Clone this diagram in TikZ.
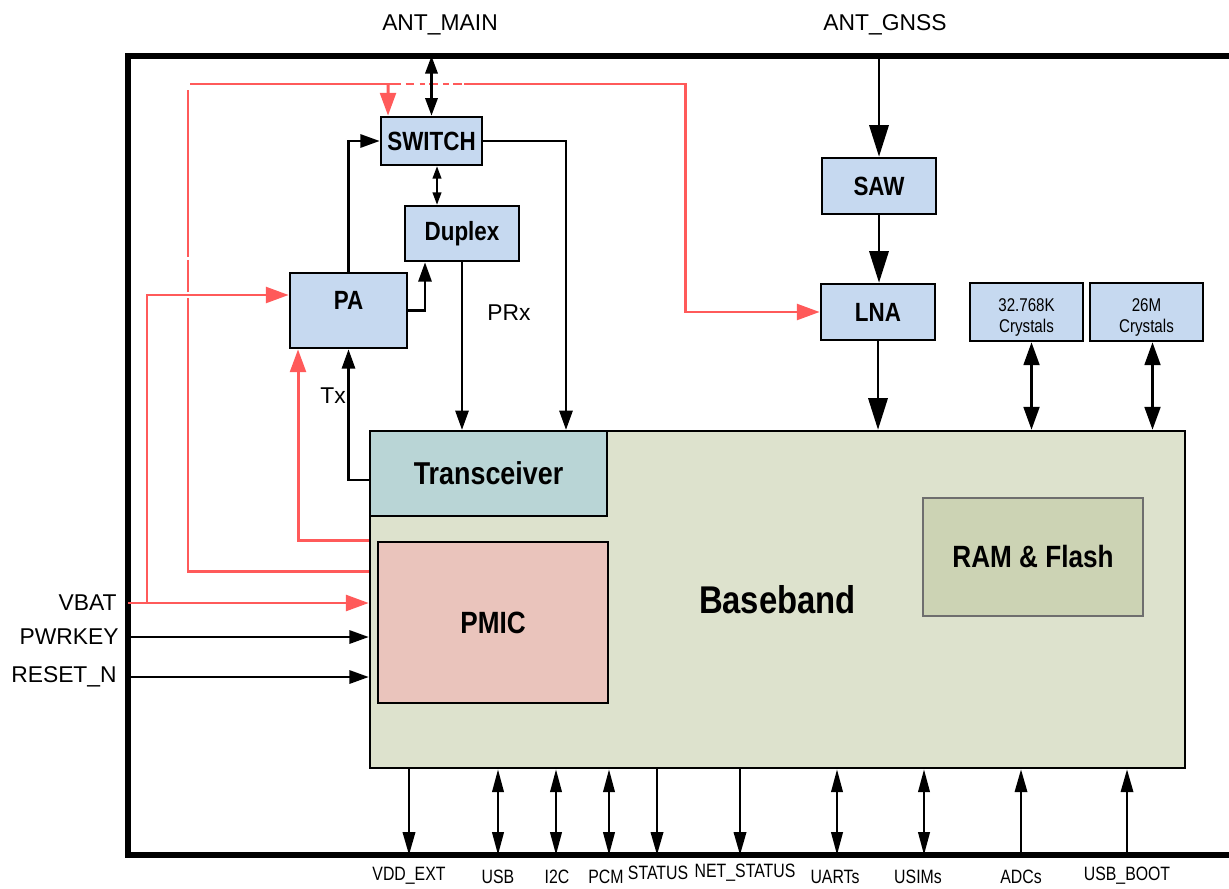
\documentclass[tikz,border=0pt]{standalone}
\usepackage{fontspec}
\setmainfont{Liberation Sans}
\newfontfamily\narrowfont[FakeStretch=0.85]{Liberation Sans}
\newfontfamily\narrowerfont[FakeStretch=0.82]{Liberation Sans}
\usepackage{tikz}
\usetikzlibrary{calc}
\usetikzlibrary{arrows.meta}
\definecolor{boxblue}{HTML}{C6D9F0}
\definecolor{trxfill}{HTML}{B9D5D6}
\definecolor{bbfill}{HTML}{DDE2CD}
\definecolor{pmicfill}{HTML}{EAC4BC}
\definecolor{ramfill}{HTML}{CCD3B4}
\definecolor{ramline}{HTML}{6E6E6E}
\definecolor{linered}{HTML}{FF5A5A}
\tikzstyle{frame}=[line width=3pt]
\tikzstyle{blkfont}=[font=\narrowfont\bfseries\fontsize{15}{17}\selectfont]
\tikzstyle{blk}=[draw,line width=1.5pt,fill=boxblue,inner sep=0pt,blkfont]
\tikzstyle{xtal}=[draw,line width=1.5pt,fill=boxblue,inner sep=0pt,align=center,
  minimum width=2.26cm,minimum height=1.16cm,font=\narrowerfont\fontsize{10.5}{12}\selectfont]
\tikzstyle{lbl}=[inner sep=0pt,font=\fontsize{13}{15}\selectfont]
\tikzstyle{sig}=[inner sep=0pt,font=\narrowerfont\fontsize{11}{13}\selectfont]
\tikzstyle{conn}=[line width=1.4pt]
\tikzstyle{arr}=[conn,-{Triangle[length=11pt,width=7.5pt]}]
\tikzstyle{dbl}=[conn,{Triangle[length=10pt,width=7pt]}-{Triangle[length=10pt,width=7pt]}]
\tikzstyle{smalldbl}=[line width=0.9pt,{Triangle[length=7pt,width=5pt]}-{Triangle[length=7pt,width=5pt]}]
\tikzstyle{bigarr}=[conn,-{Triangle[length=18pt,width=11pt]}]
\tikzstyle{xdbl}=[conn,{Triangle[length=13pt,width=9pt]}-{Triangle[length=13pt,width=9pt]}]
\tikzstyle{padarr}=[conn,-{Triangle[length=13pt,width=7pt]}]
\tikzstyle{paddbl}=[conn,{Triangle[length=13pt,width=6.5pt]}-{Triangle[length=13pt,width=6.5pt]}]
\tikzstyle{redline}=[line width=1.7pt,draw=linered]
\tikzstyle{redarr}=[redline,-{Triangle[length=13pt,width=9pt]}]

\begin{document}
\begin{tikzpicture}[x=0.02cm,y=-0.02cm]
\useasboundingbox (0,0) rectangle (1229,888);
% outer frame
\coordinate (frameT) at (0,56);
\coordinate (frameB) at (0,855);
\coordinate (frameL) at (128,0);
\draw[frame] (1229,56) -- (128,56) -- (128,855) -- (1229,855);

% baseband and its parts
\node[draw,line width=1.5pt,fill=bbfill,minimum width=16.3cm,minimum height=6.74cm,
  font=\narrowfont\bfseries\fontsize{22}{24}\selectfont] (bb) at (777.5,599.5) {Baseband};
\node[draw,line width=1.3pt,fill=trxfill,minimum width=4.74cm,minimum height=1.7cm,
  font=\narrowfont\bfseries\fontsize{18}{20}\selectfont] (trx) at (488.5,473.5) {Transceiver};
\node[draw,line width=1.3pt,fill=pmicfill,minimum width=4.6cm,minimum height=3.22cm,
  font=\narrowfont\bfseries\fontsize{17.5}{20}\selectfont] (pmic) at (493,622.5) {PMIC};
\node[draw=ramline,line width=1.1pt,fill=ramfill,minimum width=4.4cm,minimum height=2.36cm,
  font=\narrowfont\bfseries\fontsize{17.5}{20}\selectfont] (ram) at (1033,557) {RAM \& Flash};

% RF blocks
\node[blk,minimum width=2.02cm,minimum height=0.96cm] (sw) at (431.5,141) {SWITCH};
\node[blk,minimum width=2.28cm,minimum height=1.1cm] (dup) at (462,233.5) {Duplex};
\node[blk,minimum width=2.34cm,minimum height=1.5cm,
  label={[blkfont,yshift=0.2cm]center:PA}] (pa) at (348.5,310.5) {};
\node[blk,minimum width=2.28cm,minimum height=1.12cm] (saw) at (879,186) {SAW};
\node[blk,minimum width=2.28cm,minimum height=1.12cm] (lna) at (878,312) {LNA};
\node[xtal] (xa) at (1026.5,312) {\rule{0pt}{14pt}32.768K\\Crystals};
\node[xtal] (xb) at (1146.5,312) {\rule{0pt}{14pt}26M\\Crystals};

% labels
\node[lbl] (antmain) at (440,25) {ANT\_MAIN};
\node[lbl] (antgnss) at (885,25) {ANT\_GNSS};
\node[lbl] (prx) at (509,313) {PRx};
\node[lbl] (tx) at (333,396) {Tx};
\node[lbl,anchor=east] (vbat) at (117,603) {VBAT};
\node[lbl,anchor=east] (pwrkey) at (119,637) {PWRKEY};
\node[lbl,anchor=east] (resetn) at (117,677) {RESET\_N};

% red supply lines
\coordinate (rA) at (188,298);
\coordinate (rB) at (188,292);
\coordinate (rC) at (188,260);
\coordinate (rD) at (188,257);
\coordinate (rE) at (188,90);
\coordinate (rF) at (190,84);
\coordinate (rG) at (396,84);
\coordinate (rH) at (464,84);
\coordinate (rI) at (685,84);
\coordinate (rJ) at (388,84);
\coordinate (vsplit) at (147,603);
\draw[redline] ([yshift=0.57cm]bb.west) -| (rA);
\draw[redline] (rB) -- (rC);
\draw[redline] (rD) -- (rE);
\draw[redline] (rF) -- (rG);
\draw[redline,dash pattern=on 3pt off 2.5pt on 5pt off 3pt] (rG) -- (rH);
\draw[redarr] (rH) -- (rI) |- (lna.west);
\draw[redarr] (rJ) -- ([xshift=-0.87cm]sw.north);
\draw[redarr] ([yshift=1.19cm]bb.west) -| ([xshift=-1.01cm]pa.south);
\draw[redarr] (frameL |- vbat) -- (bb.west |- vbat);
\draw[redarr] (vsplit) |- ([yshift=0.31cm]pa.west);

% main antenna path
\draw[dbl] (sw.north |- frameT) -- (sw.north);
\draw[smalldbl] ([xshift=0.11cm]sw.south) -- ([xshift=0.11cm]sw.south |- dup.north);
\draw[arr] (pa.north) |- (sw.west);
\draw[arr] (pa.east) -| ([xshift=-0.74cm]dup.south);
\draw[arr] (sw.east) -| ([xshift=1.55cm]trx.north);
\draw[arr] (dup.south) -- (dup.south |- trx.north);
\draw[arr] ([yshift=-0.13cm]trx.west) -| (pa.south);

% gnss path
\draw[bigarr] (saw.north |- frameT) -- (saw.north);
\draw[bigarr] (saw.south) -- (saw.south |- lna.north);
\draw[bigarr] (lna.south) -- (lna.south |- bb.north);
\draw[xdbl] ([xshift=0.1cm]xa.south) -- ([xshift=0.1cm]xa.south |- bb.north);
\draw[xdbl] ([xshift=0.12cm]xb.south) -- ([xshift=0.12cm]xb.south |- bb.north);

% control inputs
\draw[arr] (frameL |- pwrkey) -- (bb.west |- pwrkey);
\draw[arr] (frameL |- resetn) -- (bb.west |- resetn);

% interfaces
\node[sig] (vddext) at (409,876) {VDD\_EXT};
\node[sig] (usb) at (498,877) {USB};
\node[sig] (itwoc) at (557,877) {I2C};
\node[sig] (pcm) at (606,877) {PCM};
\node[sig] (status) at (658,873) {STATUS};
\node[sig] (netstatus) at (745,873) {NET\_STATUS};
\node[sig] (uarts) at (835,877) {UARTs};
\node[sig] (usims) at (918,877) {USIMs};
\node[sig] (adcs) at (1021,877) {ADCs};
\node[sig] (usbboot) at (1127,876) {USB\_BOOT};
\draw[padarr] (bb.south -| vddext) -- (vddext |- frameB);
\draw[paddbl] (bb.south -| usb) -- (usb |- frameB);
\draw[paddbl] ([xshift=-0.02cm]bb.south -| itwoc) -- ([xshift=-0.02cm]itwoc |- frameB);
\draw[paddbl] ([xshift=0.06cm]bb.south -| pcm) -- ([xshift=0.06cm]pcm |- frameB);
\draw[padarr] ([xshift=-0.02cm]bb.south -| status) -- ([xshift=-0.02cm]status |- frameB);
\draw[padarr] ([xshift=-0.1cm]bb.south -| netstatus) -- ([xshift=-0.1cm]netstatus |- frameB);
\draw[paddbl] ([xshift=0.04cm]bb.south -| uarts) -- ([xshift=0.04cm]uarts |- frameB);
\draw[paddbl] ([xshift=0.12cm]bb.south -| usims) -- ([xshift=0.12cm]usims |- frameB);
\draw[padarr] (adcs |- frameB) -- (bb.south -| adcs);
\draw[padarr] (usbboot |- frameB) -- (bb.south -| usbboot);

\end{tikzpicture}
\end{document}
